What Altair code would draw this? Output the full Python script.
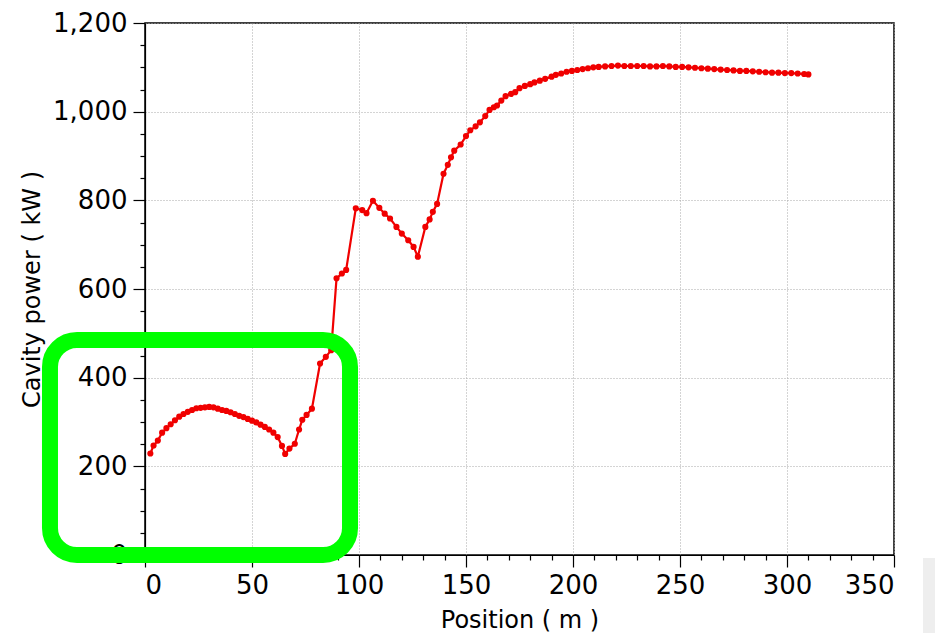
import altair as alt
import pandas as pd

# ---- data ----
position = [2.5, 4, 6, 8, 10, 12, 14, 16, 18, 20, 22, 24, 26, 28, 30, 32, 34, 36, 38, 40,
            42, 44, 46, 48, 50, 52, 54, 56, 58, 60, 62, 64, 65.5, 67.5, 70, 72, 73.5, 75.5, 78,
            81.8, 84.5, 87, 89.5, 92, 94, 98.5, 101.5, 103.5, 106.5, 109.5, 112, 114.5, 117.5,
            120, 123, 125.5, 127.5, 131, 133, 134.5, 136.5, 139.5, 141.5, 143, 144.5, 147.5,
            150, 152, 154.5, 156.5, 159, 161, 163, 164.5, 166.5, 168.5, 171, 173, 175, 177.5,
            180, 182, 184.5, 187, 190, 192, 194.5, 197, 199.5, 202, 204.5, 207, 209.5, 212,
            215, 218, 221, 224, 227, 230, 233, 236, 239, 242, 245, 248, 251, 254, 257, 260,
            263, 266, 269, 272, 275, 278, 281, 284, 287, 290, 293, 296, 299, 302, 305, 308, 310]
power = [229, 247, 258, 276, 286, 295, 304, 312, 318, 323, 327, 331, 332, 333, 334, 333, 330,
         327, 325, 322, 318, 314, 311, 307, 303, 299, 294, 289, 283, 276, 266, 246, 228, 240,
         251, 283, 305, 316, 330, 432, 447, 462, 624, 635, 643, 782, 778, 771, 799, 783, 770,
         759, 740, 725, 710, 695, 673, 740, 757, 774, 792, 860, 880, 897, 912, 926, 945, 958,
         967, 976, 990, 1004, 1010, 1014, 1025, 1035, 1040, 1044, 1053, 1058, 1062, 1066, 1070,
         1074, 1079, 1083, 1086, 1090, 1092, 1094, 1096, 1098, 1100, 1101, 1102, 1103, 1104,
         1103, 1103, 1103, 1103, 1102, 1102, 1103, 1102, 1101, 1101, 1100, 1099, 1098, 1097,
         1096, 1095, 1094, 1093, 1092, 1092, 1091, 1090, 1089, 1088, 1088, 1087, 1087, 1086,
         1085, 1084]

# highlight box (data coordinates)
box_x = [-44.4]
box_x2 = [95.8]
box_y = [485]
box_y2 = [0]

x_ticks = list(range(0, 351, 10))
y_ticks = list(range(0, 1201, 50))

df = pd.DataFrame({"position": position, "power": power})
box_df = pd.DataFrame({"x": box_x, "x2": box_x2, "y": box_y, "y2": box_y2})

FONT = "DejaVu Sans"
RED = "#f00000"

xscale = alt.Scale(domain=[0, 350], nice=False, zero=False)
yscale = alt.Scale(domain=[0, 1200], nice=False, zero=False)

xaxis = alt.Axis(
    values=x_ticks,
    tickCount=len(x_ticks),
    title="Position ( m )",
    labelExpr="datum.value % 50 === 0 ? datum.label : ''",
    labelOverlap=False,
    labelFont=FONT, labelFontSize=26, labelColor="black", labelPadding=5,
    titleFont=FONT, titleFontSize=24, titleFontWeight="normal", titleColor="black",
    titlePadding=10,
    tickSize=alt.condition("datum.value % 50 === 0", alt.value(12), alt.value(5)),
    tickColor="black", domainColor="black", tickWidth=1.2, domainWidth=1.2,
    grid=True, gridColor="#a8a8a8", gridDash=[1, 2],
    gridOpacity=alt.condition("datum.value % 50 === 0", alt.value(1), alt.value(0)),
)
yaxis = alt.Axis(
    values=y_ticks,
    tickCount=len(y_ticks),
    title="Cavity power ( kW )",
    format=",d",
    labelExpr="datum.value % 200 === 0 ? datum.label : ''",
    labelOverlap=False,
    labelFont=FONT, labelFontSize=26, labelColor="black", labelPadding=6,
    titleFont=FONT, titleFontSize=24, titleFontWeight="normal", titleColor="black",
    titlePadding=8,
    tickSize=alt.condition("datum.value % 200 === 0", alt.value(12), alt.value(5)),
    tickColor="black", domainColor="black", tickWidth=1.2, domainWidth=1.2,
    grid=True, gridColor="#a8a8a8", gridDash=[1, 2],
    gridOpacity=alt.condition("datum.value % 200 === 0", alt.value(1), alt.value(0)),
)

base = alt.Chart(df).encode(
    x=alt.X("position:Q", scale=xscale, axis=xaxis),
    y=alt.Y("power:Q", scale=yscale, axis=yaxis),
)
line = base.mark_line(color=RED, strokeWidth=2.2)
pts = base.mark_circle(color=RED, size=38, opacity=1)

frame = alt.Chart(box_df).mark_rect(
    filled=False, stroke="#00ff00", strokeWidth=16, cornerRadius=27, clip=False
).encode(
    x=alt.X("x:Q", scale=xscale),
    x2="x2:Q",
    y=alt.Y("y:Q", scale=yscale),
    y2="y2:Q",
)

# light grey window strip at the bottom-right corner of the screenshot
strip = alt.Chart(box_df).mark_rect(color="#eeeeee", clip=False).encode(
    x=alt.value(778), x2=alt.value(790), y=alt.value(535), y2=alt.value(610)
)

chart = alt.layer(strip, line, pts, frame).properties(
    width=749, height=532,
    autosize=alt.AutoSizeParams(type="none"),
    padding={"left": 145, "top": 23, "right": 41, "bottom": 78},
    background="white",
).configure_view(stroke="black", strokeWidth=1.5)

chart.save("out.html", embed_options={"renderer": "svg", "actions": False})
